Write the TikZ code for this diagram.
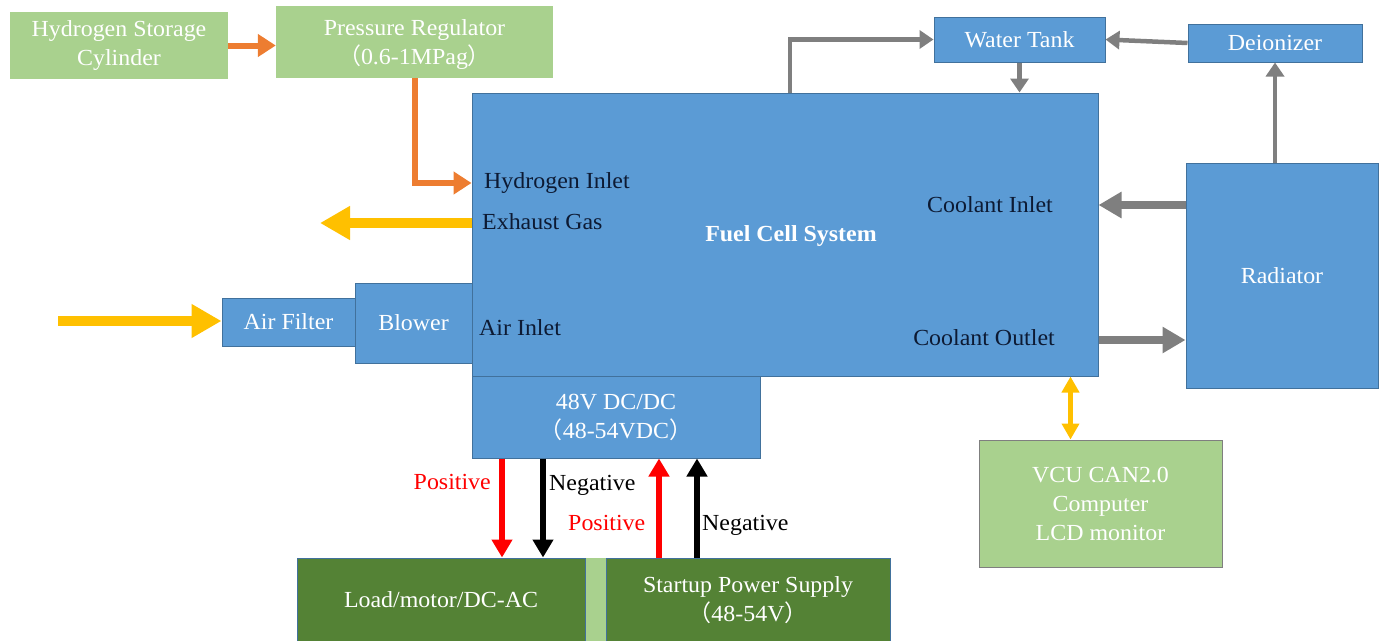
\documentclass[tikz,border=0pt]{standalone}
\usepackage{fontspec}
\setmainfont{Liberation Serif}[FakeStretch=1.04]
\newfontfamily\cjk{Noto Sans CJK SC}
\usetikzlibrary{arrows.meta,calc}
\definecolor{fcblue}{HTML}{5B9BD5}
\definecolor{fcborder}{HTML}{41719C}
\definecolor{lgreen}{HTML}{A9D18E}
\definecolor{dgreen}{HTML}{548235}
\definecolor{orng}{HTML}{ED7D31}
\definecolor{yel}{HTML}{FFC000}
\definecolor{gry}{HTML}{7F7F7F}
\definecolor{txtdark}{HTML}{0D1A33}
\definecolor{posred}{HTML}{FF0000}
\begin{document}
\begin{tikzpicture}[x=1pt,y=-1pt,
  font=\fontsize{23}{29}\selectfont,
  box/.style={rectangle, inner sep=0pt, align=center, text=white},
  bluebox/.style={box, fill=fcblue, draw=fcborder, line width=1pt},
  lgbox/.style={box, fill=lgreen},
  vcubox/.style={box, fill=lgreen, draw=gry, line width=1pt},
  dgbox/.style={box, fill=dgreen, draw=fcborder, line width=1pt},
  inlabel/.style={inner sep=0pt, text=txtdark},
  orangearrow/.style={draw=orng, line width=6pt, -{Triangle[length=18pt,width=22pt]}},
  graythin/.style={draw=gry, line width=4.5pt, -{Triangle[length=14pt,width=18pt]}},
  graythick/.style={draw=gry, line width=8pt, -{Triangle[length=23pt,width=25pt]}},
  yellowarrow/.style={draw=yel, line width=10pt, -{Triangle[length=30pt,width=32pt]}},
  redarrow/.style={draw=posred, line width=5.5pt, -{Triangle[length=18pt,width=20pt]}},
  blackarrow/.style={draw=black, line width=5.5pt, -{Triangle[length=18pt,width=20pt]}},
  vcuarrow/.style={draw=yel, line width=5.5pt, {Triangle[length=16pt,width=17pt]}-{Triangle[length=16pt,width=17pt]}},
  poslabel/.style={inner sep=0pt, text=posred},
  neglabel/.style={inner sep=0pt, text=black}
]
\useasboundingbox (0,0) rectangle (1384,640);

% boxes
\node[lgbox, minimum width=218pt, minimum height=67pt] (hsc) at (119,45.5) {Hydrogen Storage\\Cylinder};
\node[lgbox, minimum width=277pt, minimum height=72pt] (pr) at (414.5,42) {};
\node[box] (prtext) at (414.5,45) {Pressure Regulator\\{\cjk（}0.6-1MPag{\cjk）}};
\node[bluebox, minimum width=626pt, minimum height=283pt] (fcs) at (785,234.5) {};
\node[box, font=\fontsize{23}{29}\selectfont\bfseries] (fcstitle) at (791,236) {Fuel Cell System};
\node[bluebox, minimum width=171pt, minimum height=45pt] (wt) at (1019.5,39.5) {Water Tank};
\node[bluebox, minimum width=174pt, minimum height=38pt] (di) at (1275,43) {Deionizer};
\node[bluebox, minimum width=192pt, minimum height=225pt] (rad) at (1282,275.5) {Radiator};
\node[bluebox, minimum width=133pt, minimum height=48pt] (af) at (288.5,322) {Air Filter};
\node[bluebox, minimum width=117pt, minimum height=80pt] (bl) at (413.5,323) {Blower};
\node[bluebox, minimum width=288pt, minimum height=82pt] (dc) at (616,417) {48V DC/DC\\{\cjk（}48-54VDC{\cjk）}};
\node[box, fill=lgreen, minimum width=21pt, minimum height=84pt] (strip) at (595.5,600) {};
\node[dgbox, minimum width=288pt, minimum height=84pt] (load) at (441,600) {Load/motor/DC-AC};
\node[dgbox, minimum width=284pt, minimum height=84pt] (sps) at (748,600) {Startup Power Supply\\{\cjk（}48-54V{\cjk）}};
\node[vcubox, minimum width=243pt, minimum height=127pt] (vcu) at (1100.5,503.5) {VCU CAN2.0\\Computer\\LCD monitor};

% labels inside fuel cell system
\node[inlabel, anchor=west] (hin) at (484,183) {Hydrogen Inlet};
\node[inlabel, anchor=west] (exh) at (482,222) {Exhaust Gas};
\node[inlabel, anchor=west] (ain) at (479,328) {Air Inlet};
\node[inlabel] (cin) at (990,205) {Coolant Inlet};
\node[inlabel] (cout) at (984,338) {Coolant Outlet};

% hydrogen
\draw[orangearrow] (hsc.east) -- (hsc.east -| pr.west);
\draw[orangearrow] (pr.south) |- (hin.west -| fcs.west);

% exhaust and air
\coordinate (exout) at (320,223);
\draw[yellowarrow] (exout -| fcs.west) -- (exout);
\coordinate (airsrc) at (58,321);
\draw[yellowarrow] (airsrc) -- (airsrc -| af.west);

% water / coolant loop
\draw[graythin] ($(fcs.north)+(5,0)$) |- (wt.west);
\draw[graythin] (wt.south) -- (wt.south |- fcs.north);
\draw[graythin] (di.west) -- (wt.east);
\draw[graythin] (rad.north -| di.south) -- (di.south);
\draw[graythick] (rad.west |- cin) -- (fcs.east |- cin);
\draw[graythick] ($(fcs.east |- cout)+(0,2)$) -- ($(rad.west |- cout)+(0,2)$);

% VCU
\draw[vcuarrow] ($(vcu.north)+(-30,0)$) -- ($(vcu.north |- fcs.south)+(-30,0)$);

% power connections
\draw[redarrow] ($(dc.south)+(-114,0)$) -- ($(dc.south |- load.north)+(-114,0)$);
\draw[blackarrow] ($(dc.south)+(-73,0)$) -- ($(dc.south |- load.north)+(-73,0)$);
\draw[redarrow] ($(dc.south |- sps.north)+(43,0)$) -- ($(dc.south)+(43,0)$);
\draw[blackarrow] ($(dc.south |- sps.north)+(81,0)$) -- ($(dc.south)+(81,0)$);

\node[poslabel, anchor=east] (pos1) at (491,482) {Positive};
\node[neglabel, anchor=west] (neg1) at (549,485) {Negative};
\node[poslabel, anchor=west] (pos2) at (568,523) {Positive};
\node[neglabel, anchor=west] (neg2) at (702,525) {Negative};
\end{tikzpicture}
\end{document}
